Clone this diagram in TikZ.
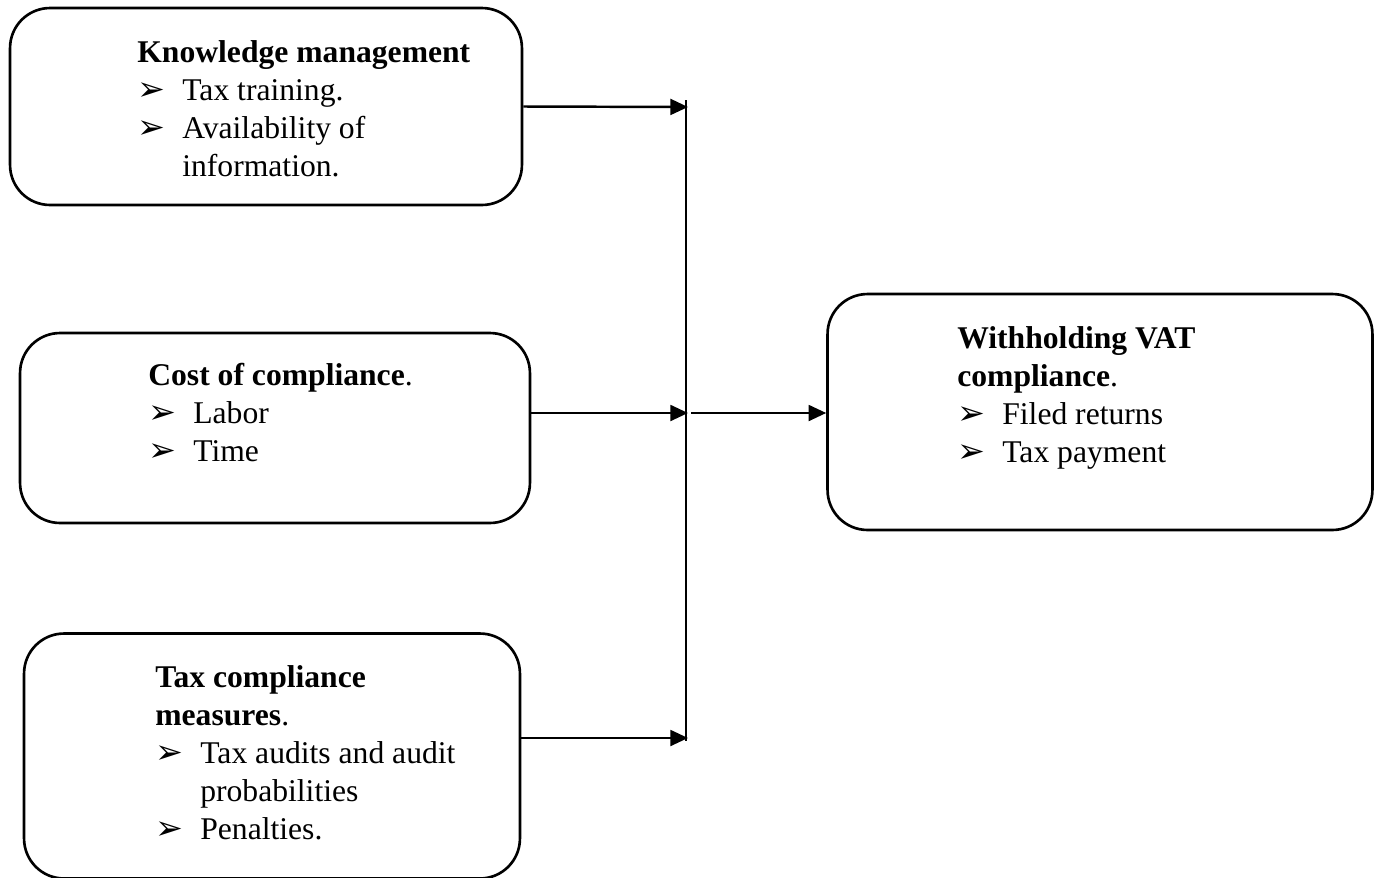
\documentclass[tikz,border=0pt]{standalone}
\usepackage{fontspec}
\setmainfont{Liberation Serif}
\newfontfamily\dingfont{DejaVu Sans}
\usetikzlibrary{arrows.meta}
\usetikzlibrary{positioning}

\newcommand{\bul}[1]{\makebox[0.9cm][l]{\dingfont\fontsize{19}{19}\selectfont ➢}#1}
\newcommand{\cnt}[1]{\hspace*{0.9cm}#1}

\begin{document}
\begin{tikzpicture}[x=0.02cm,y=-0.02cm,
   box/.style={draw,line width=1.5pt,rounded corners=0.8cm},
   txt/.style={anchor=north west,inner sep=0pt,align=left,font=\fontsize{18}{21.6}\selectfont},
   arr/.style={line width=1.4pt,-{Triangle[length=10pt,width=9pt]}}]
   \useasboundingbox (0,0) rectangle (1374,877);
   % the four boxes
   \node[box,minimum width=10.24cm,minimum height=3.94cm] (know) at (266,106.5) {};
   \node[box,minimum width=10.2cm,minimum height=3.8cm] (cost) at (275,428) {};
   \node[box,minimum width=9.92cm,minimum height=4.9cm] (tcm) at (272,756) {};
   \node[box,minimum width=10.9cm,minimum height=4.72cm] (vat) at (1100,412) {};
   % texts
   \node[txt] (knowtxt) at (137,40) {\textbf{Knowledge management}\\ \bul{Tax training.}\\ \bul{Availability of}\\ \cnt{information.}};
   \node[txt] (costtxt) at (148,363) {\textbf{Cost of compliance}.\\ \bul{Labor}\\ \bul{Time}};
   \node[txt] (tcmtxt) at (155,665) {\textbf{Tax compliance}\\ \textbf{measures}.\\ \bul{Tax audits and audit}\\ \cnt{probabilities}\\ \bul{Penalties.}};
   \node[txt] (vattxt) at (957,326) {\textbf{Withholding VAT}\\ \textbf{compliance}.\\ \bul{Filed returns}\\ \bul{Tax payment}};
   % joining line
   \coordinate (jk) at (688,107);
   \coordinate (jc) at (688,413);
   \coordinate (jt) at (688,738);
   \coordinate (bustop) at (686,100);
   \coordinate (busbot) at (686,741);
   \draw[line width=1.2pt] (bustop) -- (busbot);
   \draw[arr] (know.east) -- (jk);
   \draw[arr] (cost.east |- jc) -- (jc);
   \draw[arr] (tcm.east |- jt) -- (jt);
   \draw[arr] ([xshift=0.06cm]jc) -- (vat.west |- jc);
\end{tikzpicture}
\end{document}
